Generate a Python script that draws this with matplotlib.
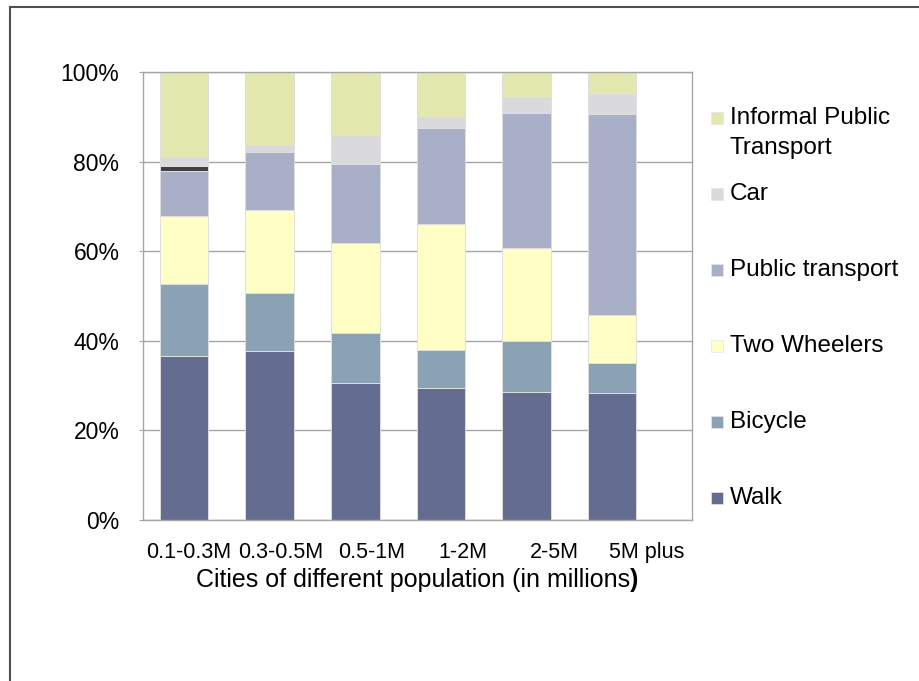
import matplotlib
matplotlib.use("Agg")
import matplotlib.pyplot as plt
import numpy as np
from matplotlib.lines import Line2D
from matplotlib.patches import Rectangle

# --- data (percent share of trips) ---
categories = ["0.1-0.3M", "0.3-0.5M", "0.5-1M", "1-2M", "2-5M", "5M plus"]
walk = [36.6, 37.8, 30.6, 29.5, 28.5, 28.3]
bicycle = [16.1, 12.9, 11.1, 8.4, 11.4, 6.7]
two_wheelers = [15.1, 18.6, 20.2, 28.1, 20.8, 10.7]
public_transport = [10.1, 12.9, 17.6, 21.6, 30.1, 45.0]
other = [1.1, 0, 0, 0, 0, 0]  # dark sliver in first bar, not in legend
car = [2.0, 1.6, 6.4, 2.3, 3.6, 4.3]
informal_pt = [19.0, 16.2, 14.1, 10.1, 5.6, 5.0]

series = [
    ("Walk", walk, "#646D8F"),
    ("Bicycle", bicycle, "#8BA2B4"),
    ("Two Wheelers", two_wheelers, "#FFFFC5"),
    ("Public transport", public_transport, "#AAAFC8"),
    (None, other, "#404040"),
    ("Car", car, "#D9D9DE"),
    ("Informal Public\nTransport", informal_pt, "#E2E8AE"),
]

W, H = 920, 681
GRID = "#A6A6A6"

plt.rcParams["font.family"] = ["Liberation Sans", "DejaVu Sans"]

fig = plt.figure(figsize=(W / 100, H / 100), dpi=100, facecolor="white")
ax = fig.add_axes([143 / W, 1 - 520 / H, (692 - 143) / W, (520 - 72) / H])

# bars sit slightly left of the category centres in the original
n = len(categories)
bar_x = np.arange(n) * 0.935 - 0.05
bottom = np.zeros(n)
for label, vals, color in series:
    vals = np.array(vals, dtype=float)
    mask = vals > 0
    ax.bar(bar_x[mask], vals[mask], bottom=bottom[mask], width=0.53,
           color=color, edgecolor="#DEDEDE", linewidth=0.7, zorder=2)
    bottom += vals

ax.set_xlim(-0.5, n - 0.5)
ax.set_ylim(0, 100)
ax.set_yticks(np.arange(0, 101, 20))
ax.set_yticklabels([f"{v}%" for v in range(0, 101, 20)], fontsize=16.5)
ax.set_xticks(np.arange(n))
ax.set_xticklabels(categories, fontsize=15.5)
ax.tick_params(axis="y", length=3, color=GRID, pad=14)
ax.tick_params(axis="x", length=0, pad=16)
ax.grid(axis="y", color=GRID, linewidth=1.0, zorder=0)
ax.set_axisbelow(True)
for sp in ax.spines.values():
    sp.set_color(GRID)
    sp.set_linewidth(1.0)

# x label with a bold closing paren, as in the source
fig.canvas.draw()
r = fig.canvas.get_renderer()
t1 = fig.text(0, 1 - 580 / H, "Cities of different population (in millions",
              fontsize=18, va="center", ha="left")
t2 = fig.text(0, 1 - 580 / H, ")", fontsize=18, fontweight="bold", va="center", ha="left")
w1 = t1.get_window_extent(r).width
w2 = t2.get_window_extent(r).width
x0 = (143 + 692) / 2 - (w1 + w2) / 2
t1.set_x(x0 / W)
t2.set_x((x0 + w1) / W)

# legend drawn by hand (top entry first)
leg_y = 118 + 76 * np.arange(6)
for (label, vals, color), y in zip([s for s in series[::-1] if s[0]], leg_y):
    fig.add_artist(Rectangle((711 / W, 1 - (y + 6) / H), 12 / W, 12 / H,
                             transform=fig.transFigure, facecolor=color,
                             edgecolor="#E6E6E6", linewidth=0.5))
    fig.text(730 / W, 1 - y / H, label.split("\n")[0], fontsize=17.5, va="center", ha="left")
    if "\n" in label:
        fig.text(730 / W, 1 - (y + 30) / H, label.split("\n")[1], fontsize=17.5,
                 va="center", ha="left")

# outer frame (top and left edges visible)
fig.add_artist(Line2D([10.5 / W, 10.5 / W], [0, 1 - 6.5 / H], color="#505050",
                      linewidth=1.5, transform=fig.transFigure))
fig.add_artist(Line2D([10.5 / W, 1], [1 - 6.5 / H, 1 - 6.5 / H], color="#505050",
                      linewidth=1.5, transform=fig.transFigure))

fig.savefig("out.png", dpi=100, facecolor="white")
